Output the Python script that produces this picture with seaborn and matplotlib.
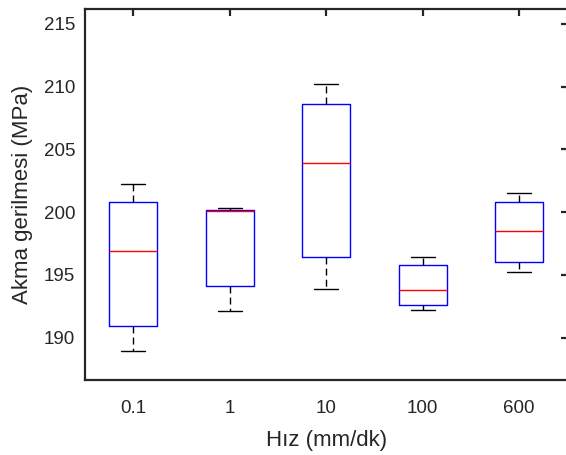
import numpy as np
import pandas as pd
import matplotlib
matplotlib.use("Agg")
import matplotlib.pyplot as plt
import seaborn as sns

# degerler
hiz = ["0.1", "1", "10", "100", "600"]
alt_uc = [188.9, 192.1, 193.9, 192.2, 195.2]
q1 = [190.9, 194.1, 196.4, 192.6, 196.0]
medyan = [196.9, 200.1, 203.9, 193.8, 198.5]
q3 = [200.8, 200.2, 208.6, 195.8, 200.8]
ust_uc = [202.2, 200.3, 210.2, 196.4, 201.5]

# her hiz icin 5 nokta -> kutu istatistikleri ayni cikar
rows = []
for i, h in enumerate(hiz):
    for v in [alt_uc[i], q1[i], medyan[i], q3[i], ust_uc[i]]:
        rows.append({"Hiz": h, "Akma": v})
df = pd.DataFrame(rows)

sns.set_style("white")
plt.rcParams["font.family"] = ["Liberation Sans", "DejaVu Sans"]
koyu = "#262626"

fig = plt.figure(figsize=(5.66, 4.55), dpi=100)
ax = fig.add_axes([85 / 566, 0.1642, 482.5 / 566, 0.8167])

sns.boxplot(data=df, x="Hiz", y="Akma", order=hiz, fill=False, width=0.5,
            whis=np.inf, linewidth=1.0, ax=ax,
            boxprops=dict(color="blue"),
            medianprops=dict(color="red"),
            whiskerprops=dict(color="black", linestyle=(0, (5, 3))),
            capprops=dict(color="black"))

ax.set_xlim(-0.5, 4.5)
ax.set_ylim(186.6, 216.2)
ax.set_yticks([190, 195, 200, 205, 210, 215])

ax.set_xlabel("Hız (mm/dk)", fontsize=16, color=koyu, labelpad=9.5)
ax.set_ylabel("Akma gerilmesi (MPa)", fontsize=16, color=koyu, labelpad=7.5)

ax.tick_params(direction="in", length=5, width=1.6, colors=koyu,
               labelsize=13.5, top=True, right=True, pad=7)
ax.tick_params(axis="x", pad=14)
for s in ax.spines.values():
    s.set_visible(True)
    s.set_color(koyu)
    s.set_linewidth(1.6)

fig.savefig("out.png", dpi=100)
